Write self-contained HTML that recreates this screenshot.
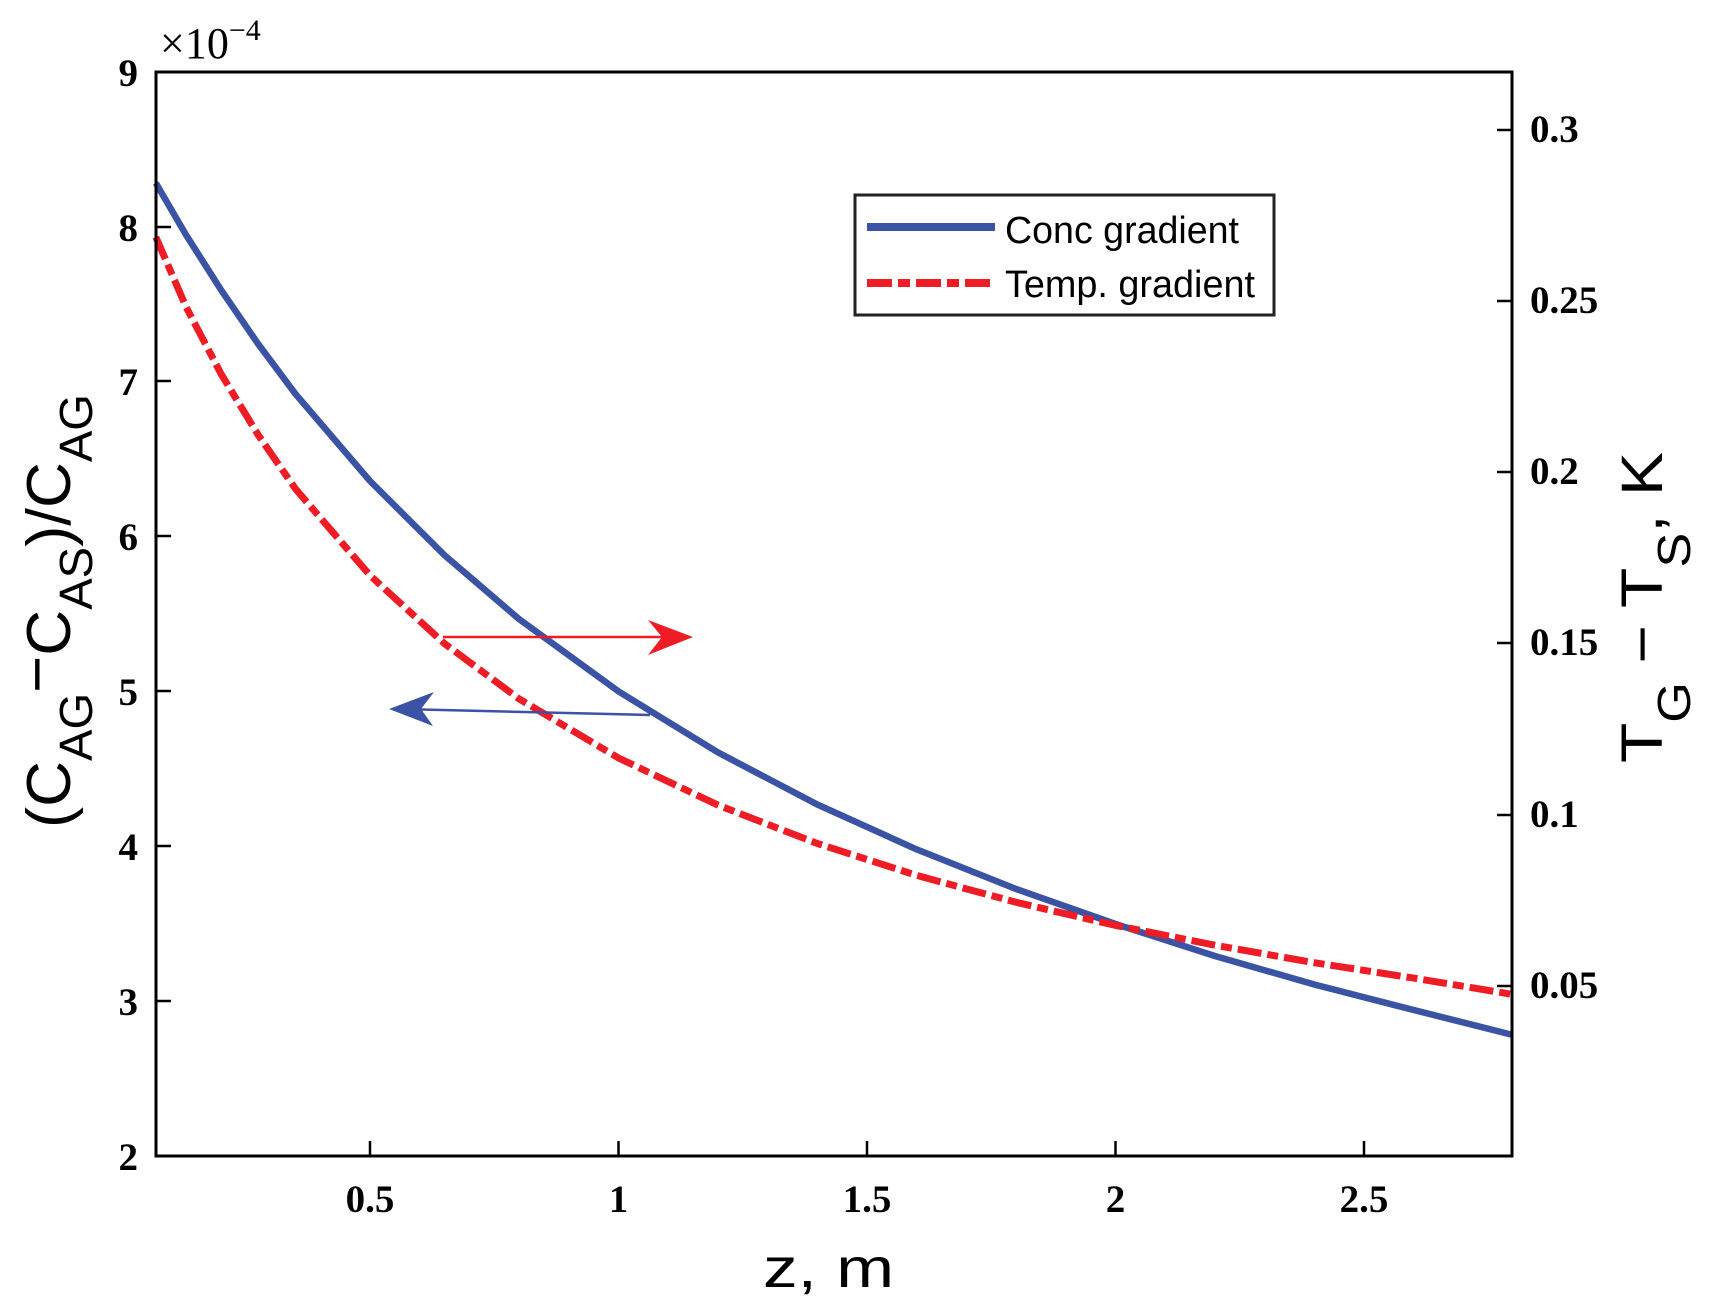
<!DOCTYPE html>
<html><head><meta charset="utf-8"><style>
html,body{margin:0;padding:0;background:#fff}
svg{display:block}
.t{font-family:"Liberation Serif",serif;font-size:39px;font-weight:bold;fill:#000}
.s{font-family:"Liberation Sans",sans-serif;fill:#000}
</style></head><body>
<svg width="1710" height="1313" viewBox="0 0 1710 1313" xmlns="http://www.w3.org/2000/svg">
<rect width="1710" height="1313" fill="#fff"/>
<polyline fill="none" stroke="#3a53a4" stroke-width="6.5" stroke-linejoin="round" points="155.8,183 186.1,235 221.1,290 258.2,344 295.5,394 370,481.0 444.6,555.3 519.1,619.1 618.5,691.4 717.9,752.4 817.3,804.5 916.7,849.4 1016.1,889 1115.5,924 1214.9,956 1314.3,984.5 1413.7,1010 1513,1035"/>
<polyline fill="none" stroke="#ee1c25" stroke-width="7" stroke-linejoin="round" stroke-dasharray="24,6,11,6" points="155.8,237 186.1,307 221.1,374 258.2,435 295.5,488.9 370,575.4 444.6,643.7 519.1,698.9 618.5,758.0 717.9,805.1 817.3,843.5 916.7,875.4 1016.1,902.3 1115.5,925.4 1214.9,945.2 1314.3,962.7 1413.7,978.1 1513,994.5"/>
<!-- arrows -->
<line x1="443" y1="637" x2="680" y2="637" stroke="#ee1c25" stroke-width="2.5"/>
<polygon points="693,637 648,620 662,637 648,655" fill="#ee1c25"/>
<line x1="650" y1="715" x2="400" y2="709" stroke="#3a53a4" stroke-width="2.5"/>
<polygon points="389,709 434,692 421,709 433,726" fill="#3a53a4"/>
<!-- axes box -->
<rect x="156" y="72" width="1356" height="1084" fill="none" stroke="#000" stroke-width="3"/>
<g stroke="#000" stroke-width="2.5">
<line x1="370" y1="1156" x2="370" y2="1141"/><line x1="618.5" y1="1156" x2="618.5" y2="1141"/>
<line x1="867" y1="1156" x2="867" y2="1141"/><line x1="1115.5" y1="1156" x2="1115.5" y2="1141"/>
<line x1="1364" y1="1156" x2="1364" y2="1141"/>
<line x1="156" y1="1001" x2="171" y2="1001"/><line x1="156" y1="846" x2="171" y2="846"/>
<line x1="156" y1="691" x2="171" y2="691"/><line x1="156" y1="536" x2="171" y2="536"/>
<line x1="156" y1="381" x2="171" y2="381"/><line x1="156" y1="227" x2="171" y2="227"/>
<line x1="1512" y1="986" x2="1497" y2="986"/><line x1="1512" y1="815" x2="1497" y2="815"/>
<line x1="1512" y1="643" x2="1497" y2="643"/><line x1="1512" y1="472" x2="1497" y2="472"/>
<line x1="1512" y1="301" x2="1497" y2="301"/><line x1="1512" y1="130" x2="1497" y2="130"/>
</g>
<g class="t" text-anchor="end">
<text x="138" y="1170">2</text><text x="138" y="1015">3</text><text x="138" y="860">4</text>
<text x="138" y="705">5</text><text x="138" y="550">6</text><text x="138" y="395">7</text>
<text x="138" y="241">8</text><text x="138" y="86">9</text>
</g>
<text class="t" x="160" y="58" style="font-weight:normal;font-size:44px">×10<tspan dy="-18" font-size="30">−4</tspan></text>
<g class="t">
<text x="1530" y="998">0.05</text><text x="1530" y="827">0.1</text><text x="1530" y="655">0.15</text>
<text x="1530" y="484">0.2</text><text x="1530" y="313">0.25</text><text x="1530" y="142">0.3</text>
</g>
<g class="t" text-anchor="middle">
<text x="370" y="1212">0.5</text><text x="618.5" y="1212">1</text><text x="867" y="1212">1.5</text>
<text x="1115.5" y="1212">2</text><text x="1364" y="1212">2.5</text>
</g>
<text class="s" x="763" y="1287" font-size="56" textLength="131" lengthAdjust="spacingAndGlyphs">z,  m</text>
<text class="s" font-size="62" transform="translate(70,828) rotate(-90)" textLength="434" lengthAdjust="spacingAndGlyphs">(C<tspan font-size="46" dy="22">AG</tspan><tspan dy="-34">−</tspan><tspan dy="12">C</tspan><tspan font-size="46" dy="22">AS</tspan><tspan dy="-22">)/C</tspan><tspan font-size="46" dy="22">AG</tspan></text>
<text class="s" font-size="58" transform="translate(1662,763) rotate(-90)" textLength="311" lengthAdjust="spacingAndGlyphs">T<tspan font-size="46" dy="28">G</tspan><tspan dy="-28"> − T</tspan><tspan font-size="46" dy="28">S</tspan><tspan dy="-28">,  K</tspan></text>
<!-- legend -->
<rect x="855" y="195" width="419" height="120" fill="#fff" stroke="#222" stroke-width="3"/>
<line x1="867" y1="227" x2="995" y2="227" stroke="#3a53a4" stroke-width="8"/>
<line x1="867" y1="283" x2="995" y2="283" stroke="#ee1c25" stroke-width="8" stroke-dasharray="25,6,12,6"/>
<text class="s" x="1005" y="243" font-size="38" textLength="234" lengthAdjust="spacingAndGlyphs">Conc gradient</text>
<text class="s" x="1005" y="297" font-size="38" textLength="250" lengthAdjust="spacingAndGlyphs">Temp. gradient</text>
</svg>
</body></html>
